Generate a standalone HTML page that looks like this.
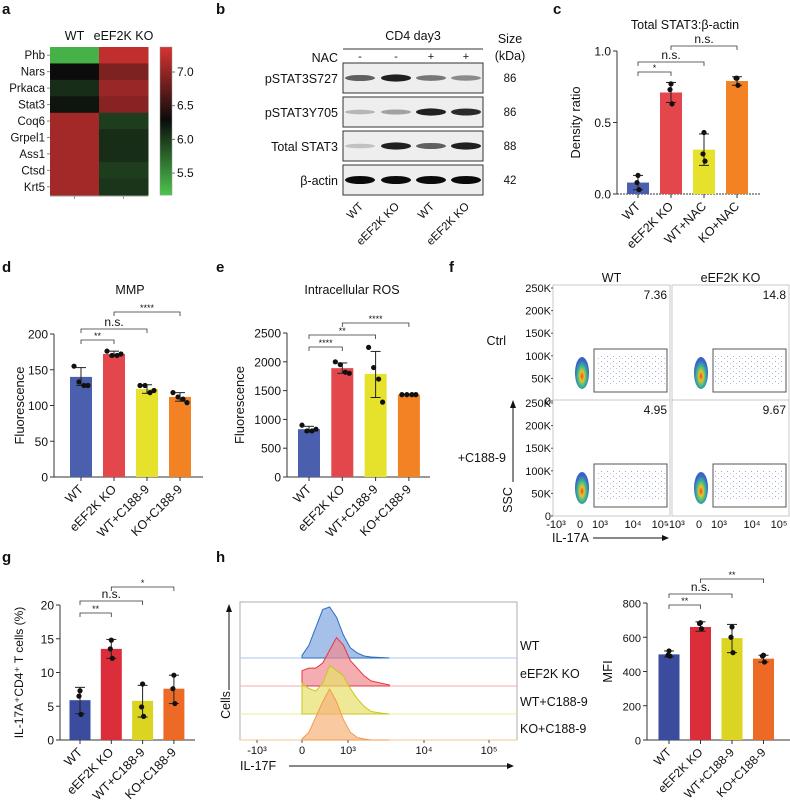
<!DOCTYPE html>
<html><head><meta charset="utf-8"><style>
body{margin:0;background:#fff}
svg{display:block;font-family:"Liberation Sans",Arial,sans-serif}
</style></head><body>
<svg id="fig" width="790" height="807" viewBox="0 0 790 807" xmlns="http://www.w3.org/2000/svg">
<defs>
<pattern id="dotsA" width="6" height="5" patternUnits="userSpaceOnUse"><rect x="1" y="1" width="1" height="1" fill="#7686d4"/><rect x="4" y="3" width="1" height="1" fill="#98a4e0"/></pattern>
<radialGradient id="blob" cx="0.5" cy="0.6" r="0.5"><stop offset="0" stop-color="#e8402a"/><stop offset="0.3" stop-color="#f0c020"/><stop offset="0.6" stop-color="#3dc08a"/><stop offset="1" stop-color="#3a62c8"/></radialGradient>
</defs>
<g id="root"></g>
</svg>
<script>
// ---- panel a heatmap data ----
const heatGenes=["Phb","Nars","Prkaca","Stat3","Coq6","Grpel1","Ass1","Ctsd","Krt5"];
const heatWT=[5.3,6.3,6.1,6.25,7.1,7.1,7.1,7.1,7.1];
const heatKO=[7.25,6.9,7.05,6.95,6.0,6.1,6.1,6.0,6.05];
const heatTicks=[5.5,6.0,6.5,7.0];
// ---- panel b blot data ----
const blotRows=["pSTAT3S727","pSTAT3Y705","Total STAT3","β-actin"];
const blotSizes=["86","86","88","42"];
const blotNAC=["-","-","+","+"];
const blotLanes=["WT","eEF2K KO","WT","eEF2K KO"];
const blotInt=[[0.6,0.9,0.5,0.4],[0.2,0.3,0.9,0.85],[0.15,0.9,0.6,0.9],[1,1,1,1]];
// ---- panel c ----
const cCats=["WT","eEF2K KO","WT+NAC","KO+NAC"];
const cMeans=[0.08,0.71,0.31,0.79];
const cPts=[[0.13,0.08,0.03],[0.77,0.73,0.63],[0.43,0.28,0.23],[0.81,0.81,0.76]];
const cErrLo=[0.03,0.64,0.20,0.76];
const cErrHi=[0.13,0.78,0.42,0.82];
const cTicks=[0,0.5,1.0];
const cTickLabels=["0.0","0.5","1.0"];
// ---- panel d ----
const dCats=["WT","eEF2K KO","WT+C188-9","KO+C188-9"];
const dMeans=[140,172,123,112];
const dPts=[[155,133,128,128],[176,170,170,172],[128,128,118,121],[118,112,109,104]];
const dErrLo=[128,169,117,106];
const dErrHi=[153,176,129,118];
const dTicks=[0,50,100,150,200];
// ---- panel e ----
const eCats=["WT","eEF2K KO","WT+C188-9","KO+C188-9"];
const eMeans=[830,1890,1790,1430];
const ePts=[[900,800,800,830],[2000,1950,1820,1800],[2250,1900,1700,1300],[1430,1430,1430,1430]];
const eErrLo=[780,1800,1380,1430];
const eErrHi=[880,1980,2180,1430];
const eTicks=[0,500,1000,1500,2000,2500];
// ---- panel f ----
const fCols=["WT","eEF2K KO"];
const fRows=["Ctrl","+C188-9"];
const fPct=[["7.36","14.8"],["4.95","9.67"]];
const fYTicks=["0","50K","100K","150K","200K","250K"];
const fXTicks=["-10³","0","10³","10⁴","10⁵"];
// ---- panel g ----
const gCats=["WT","eEF2K KO","WT+C188-9","KO+C188-9"];
const gMeans=[5.9,13.5,5.8,7.6];
const gPts=[[7.3,6.5,3.8],[14.8,13.5,12.1],[8.3,4.9,3.5],[9.6,7.6,5.4]];
const gErrLo=[3.9,12.1,3.4,5.4];
const gErrHi=[7.8,14.9,8.1,9.6];
const gTicks=[0,5,10,15,20];
// ---- panel h histograms (x in log-ish units, counts 0..1) ----
const hSamples=["WT","eEF2K KO","WT+C188-9","KO+C188-9"];
const hBins=[0,0.15,0.3,0.45,0.6,0.75,0.9,1.05,1.2,1.35,1.5,1.7,1.9];
const hCounts=[[0.05,0.25,0.6,0.95,1.0,0.8,0.45,0.2,0.1,0.04,0.02,0.01,0],
[0.3,0.35,0.35,0.45,0.7,0.95,0.8,0.5,0.35,0.2,0.1,0.06,0.02],
[0.6,0.5,0.45,0.6,0.95,0.85,0.75,0.5,0.3,0.15,0.05,0.02,0],
[0.02,0.15,0.45,0.75,1.0,0.75,0.4,0.15,0.05,0.02,0,0,0]];
const hXTicks=["-10³","0","10³","10⁴","10⁵"];
// ---- MFI ----
const mCats=["WT","eEF2K KO","WT+C188-9","KO+C188-9"];
const mMeans=[500,660,595,475];
const mPts=[[520,495,490],[685,680,650],[660,600,510],[495,490,455]];
const mErrLo=[485,635,510,455];
const mErrHi=[520,690,675,495];
const mTicks=[0,200,400,600,800];

const NS="http://www.w3.org/2000/svg";
const root=document.getElementById('root');
function mk(tag,attrs,parent,txt){const e=document.createElementNS(NS,tag);for(const k in attrs)e.setAttribute(k,attrs[k]);if(txt!==undefined)e.textContent=txt;(parent||root).appendChild(e);return e;}
function txt(x,y,s,size,anchor,parent,extra){const e=mk('text',Object.assign({x:x,y:y,'font-size':size,'text-anchor':anchor||'start',fill:'#111'},extra||{}),parent,s);return e;}

// panel letters
[["a",2,14],["b",216,14],["c",553,14],["d",2,272],["e",216,272],["f",449,272],["g",2,562],["h",216,562]].forEach(p=>{
 const t=txt(p[1],p[2],p[0],15,'start',null,{'font-weight':'bold'});
 
 
});

// ---- heatmap ----
function heatColor(v){
 const mid=6.3;let r,g,b;
 if(v<mid){const t=Math.max(0,Math.min(1,(mid-v)/(mid-5.2)));r=12+t*(76-12);g=12+t*(194-12);b=12+t*(76-12);}
 else{const t=Math.max(0,Math.min(1,(v-mid)/(7.35-mid)));r=12+t*(211-12);g=12+t*(50-12);b=12+t*(50-12);}
 return `rgb(${r|0},${g|0},${b|0})`;
}
(function(){
 const g=mk('g',{});
 const x0=50,cw=49,y0=47,rh=148/heatGenes.length;
 const t1=txt(x0+cw/2,40,"WT",12.5,'middle',g);
 const t2=txt(x0+cw*1.5,40,"eEF2K KO",12.5,'middle',g);
 heatGenes.forEach((gn,i)=>{
  [heatWT,heatKO].forEach((arr,j)=>{
   const r=mk('rect',{x:x0+j*cw,y:y0+i*rh,width:cw+0.5,height:rh+0.5,fill:heatColor(arr[i])},g);
   
   
  });
  const l=txt(x0-5,y0+i*rh+rh/2+4,gn,11.5,'end',g);
  mk('line',{x1:x0-3,x2:x0,y1:y0+i*rh+rh/2,y2:y0+i*rh+rh/2,stroke:'#888'},g);
 });
 mk('line',{x1:x0,x2:x0+2*cw,y1:196,y2:196,stroke:'#999'},g);
 mk('line',{x1:x0+cw/2,x2:x0+cw/2,y1:196,y2:199,stroke:'#999'},g);
 mk('line',{x1:x0+1.5*cw,x2:x0+1.5*cw,y1:196,y2:199,stroke:'#999'},g);
 const cb=mk('g',{},g);
 const cy=v=>72+(7.0-v)/0.5*33.7;
 for(let y=47;y<195;y++){const v=7.0-(y-72)/33.7*0.5;mk('rect',{x:160,y:y,width:12,height:1.3,fill:heatColor(v)},cb);}
 mk('rect',{x:160,y:47,width:12,height:148,fill:'none',stroke:'#999','stroke-width':0.5},cb);
 heatTicks.forEach(v=>{mk('line',{x1:172,x2:175,y1:cy(v),y2:cy(v),stroke:'#777'},cb);const t=txt(177,cy(v)+4,v.toFixed(1),12,'start',cb);});
})();

// ---- blots ----
(function(){
 const g=mk('g',{});
 const lx=[360,396,431,466],bx0=343,bx1=483;
 const boxY=[63,97,131,165],bh=30;
 txt(413,40,"CD4 day3",12.5,'middle',g);
 mk('line',{x1:bx0,x2:bx1,y1:49,y2:49,stroke:'#333'},g);
 txt(510,43,"Size",12.5,'middle',g);txt(510,60,"(kDa)",12.5,'middle',g);
 txt(338,62,"NAC",12.5,'end',g);
 blotNAC.forEach((s,i)=>txt(lx[i],60,s,11,'middle',g));
 blotRows.forEach((r,ri)=>{
  const t=txt(338,boxY[ri]+20,r,12.5,'end',g);
  const bg=mk('rect',{x:bx0,y:boxY[ri],width:bx1-bx0,height:bh,fill:'#eeeeee',stroke:'#333','stroke-width':1},g);
  
  blotInt[ri].forEach((v,li)=>{
   const h=ri===3?7:3+v*3.5;
   const c=Math.round(225-v*215);
   const band=mk('ellipse',{cx:lx[li],cy:boxY[ri]+bh/2,rx:15,ry:h/2+0.5,fill:`rgb(${c},${c},${c})`},g);
   
  });
  txt(510,boxY[ri]+19,blotSizes[ri],11.5,'middle',g);
 });
 blotLanes.forEach((s,i)=>{const t=txt(lx[i]+4,207,s,11.5,'end',g,{transform:`rotate(-45 ${lx[i]+4} 207)`});});
})();

// ---- generic bar chart ----
function barChart(o){
 const g=mk('g',{});
 const Y=v=>o.y0-v/o.vmax*(o.y0-o.yTop);
 const bx=i=>o.bx0+i*o.step;
 mk('line',{x1:o.ax,x2:o.ax,y1:o.yTop,y2:o.y0,stroke:'#333','stroke-width':1},g);
 mk('line',{x1:o.ax,x2:o.axEnd,y1:o.y0,y2:o.y0,stroke:'#333','stroke-width':1,'stroke-dasharray':o.dash||'none'},g);
 o.ticks.forEach((v,i)=>{mk('line',{x1:o.ax-4,x2:o.ax,y1:Y(v),y2:Y(v),stroke:'#333'},g);
  const t=txt(o.ax-6,Y(v)+4.5,o.tickLabels?o.tickLabels[i]:String(v),o.fs||12,'end',g);});
 const yl=txt(o.ylx,(o.y0+o.yTop)/2,o.ylabel,o.ylfs||13,'middle',g,{transform:`rotate(-90 ${o.ylx} ${(o.y0+o.yTop)/2})`});
 
 if(o.title){const t=txt(o.titleX,o.titleY,o.title,12.5,'middle',g);}
 o.cats.forEach((c,i)=>{
  const x=bx(i);
  const r=mk('rect',{x:x-o.bw/2,y:Y(o.means[i]),width:o.bw,height:o.y0-Y(o.means[i]),fill:o.colors[i]},g);
  
  
  mk('line',{x1:x,x2:x,y1:Y(o.errLo[i]),y2:Y(o.errHi[i]),stroke:'#222'},g);
  mk('line',{x1:x-5,x2:x+5,y1:Y(o.errLo[i]),y2:Y(o.errLo[i]),stroke:'#222'},g);
  mk('line',{x1:x-5,x2:x+5,y1:Y(o.errHi[i]),y2:Y(o.errHi[i]),stroke:'#222'},g);
  const n=o.pts[i].length;
  o.pts[i].forEach((p,k)=>{const off=n===3?[0,-1,1][k]:[-7,-2,3,7][k];
   const d=mk('circle',{cx:x+off,cy:Y(p),r:2.6,fill:'#111'},g);});
  mk('line',{x1:x,x2:x,y1:o.y0,y2:o.y0+4,stroke:'#333'},g);
  const t=txt(x+3,o.y0+13,c,o.catfs||12.5,'end',g,{transform:`rotate(-45 ${x+3} ${o.y0+13})`});
  
 });
 o.brackets.forEach(b=>{
  const x1=bx(b[0]),x2=bx(b[1]),y=b[3];
  mk('path',{d:`M${x1} ${y+4}V${y}H${x2}V${y+4}`,fill:'none',stroke:'#333','stroke-width':0.8},g);
  const t=txt((x1+x2)/2,b[2]==='n.s.'?y-3:y-1,b[2],b[2]==='n.s.'?12:9,'middle',g);
  
 });
}
const colsA=["#4a5fad","#e3474c","#e6e12a","#f28224"];
const colsB=["#3b4b9e","#dc2d3a","#dcd423","#ec6a26"];
barChart({name:'chart-c-stat3',ax:617,axEnd:760,y0:194,yTop:51,vmax:1.0,bx0:638,step:33,bw:22,cats:cCats,means:cMeans,pts:cPts,errLo:cErrLo,errHi:cErrHi,ticks:cTicks,tickLabels:cTickLabels,colors:colsA,ylabel:'Density ratio',ylx:580,title:'Total STAT3:β-actin',titleX:685,titleY:29,dash:'2 1',
 brackets:[[0,1,'*',72],[0,2,'n.s.',62],[1,3,'n.s.',46]]});
barChart({name:'chart-d-mmp',ax:54,axEnd:203,y0:477,yTop:334,vmax:200,bx0:81,step:33,bw:22,cats:dCats,means:dMeans,pts:dPts,errLo:dErrLo,errHi:dErrHi,ticks:dTicks,colors:colsA,ylabel:'Fluorescence',ylx:24,title:'MMP',titleX:130,titleY:294,
 brackets:[[0,1,'**',340],[0,2,'n.s.',329],[1,3,'****',312]]});
barChart({name:'chart-e-ros',ax:287,axEnd:430,y0:477,yTop:333,vmax:2500,bx0:309,step:33.3,bw:22,cats:eCats,means:eMeans,pts:ePts,errLo:eErrLo,errHi:eErrHi,ticks:eTicks,colors:colsA,ylabel:'Fluorescence',ylx:244,title:'Intracellular ROS',titleX:352,titleY:294,
 brackets:[[0,1,'****',347],[0,2,'**',335],[1,3,'****',323]]});
barChart({name:'chart-g-il17a',ax:60,axEnd:195,y0:740,yTop:605,vmax:20,bx0:80,step:31.3,bw:21,cats:gCats,means:gMeans,pts:gPts,errLo:gErrLo,errHi:gErrHi,ticks:gTicks,colors:colsB,ylabel:'IL-17A⁺CD4⁺ T cells (%)',ylx:23,ylfs:12,
 brackets:[[0,1,'**',613],[0,2,'n.s.',601],[1,3,'*',587]]});
barChart({name:'chart-h-mfi',ax:647,axEnd:790,y0:740,yTop:603,vmax:800,bx0:669,step:31.5,bw:21,cats:mCats,means:mMeans,pts:mPts,errLo:mErrLo,errHi:mErrHi,ticks:mTicks,colors:colsB,ylabel:'MFI',ylx:612,fs:11,catfs:12,
 brackets:[[0,1,'**',605],[0,2,'n.s.',594],[1,3,'**',579]]});

// ---- flow panel f ----
(function(){
 const g=mk('g',{});
 const px=[553,672],pw=117,py=[285,400],ph=116;
 fCols.forEach((c,ci)=>txt(px[ci]+pw/2,282,c,12.5,'middle',g));
 fRows.forEach((r,ri)=>txt(506,ri?462:345,r,12.5,'end',g));
 for(let ri=0;ri<2;ri++)for(let ci=0;ci<2;ci++){
  const x=px[ci],y=py[ri];
  const p=mk('rect',{x:x,y:y,width:pw,height:ph,fill:'#fff',stroke:'#bbb','stroke-width':0.8},g);
  
  const gx=x+41,gy=y+64,gw=73,gh=43;
  mk('rect',{x:gx+2,y:gy+6,width:gw-4,height:gh-12,fill:'url(#dotsA)',opacity:0.7},g);
  const gate=mk('rect',{x:gx,y:gy,width:gw,height:gh,fill:'none',stroke:'#555','stroke-width':1},g);
  
  const bl=mk('ellipse',{cx:x+29,cy:y+88,rx:7,ry:16,fill:'url(#blob)'},g);
  
  const t=txt(x+pw-3,y+14,fPct[ri][ci],12,'end',g);
 }
 for(let ri=0;ri<2;ri++){
  fYTicks.forEach((s,k)=>{const y=py[ri]+ph-k*22.6;txt(551,y+4,s,11,'end',g);mk('line',{x1:551,x2:553,y1:y,y2:y,stroke:'#555'},g);});
 }
 const xo=[3,27,47,80,107];
 for(let ci=0;ci<2;ci++)fXTicks.forEach((s,k)=>txt(px[ci]+xo[k],528,s,11,'middle',g));
 const s=txt(512,500,"SSC",12.5,'middle',g,{transform:'rotate(-90 512 500)'});
 mk('line',{x1:513,x2:513,y1:482,y2:407,stroke:'#111'},g);mk('path',{d:'M510 408L513 400L516 408Z',fill:'#111'},g);
 const il=txt(552,542,"IL-17A",12.5,'start',g);
 mk('line',{x1:593,x2:663,y1:538,y2:538,stroke:'#111'},g);mk('path',{d:'M662 535L669 538L662 541Z',fill:'#111'},g);
})();

// ---- histogram h ----
(function(){
 const g=mk('g',{});
 const bx=240,bw=277,top=602,bot=740;
 mk('rect',{x:bx,y:top,width:bw,height:bot-top,fill:'#fff',stroke:'#999','stroke-width':0.8},g);
 const base=[658,686,714,740],scale=[51,51,51,51];
 const fill=["#7fa7e0","#f08a90","#e5e06a","#f7b27a"],line=["#2c6cc4","#e83440","#c9c61c","#f59a4a"],bl=["#aac8ee","#f5a8ae","#eeee9a","#f7c59a"];
 const X=v=>302+v*46;
 hSamples.forEach((s,i)=>{
  mk('line',{x1:bx,x2:bx+bw,y1:base[i],y2:base[i],stroke:bl[i]},g);
  let d=`M${X(hBins[0])} ${base[i]}`;
  hBins.forEach((b,k)=>{d+=`L${X(b)} ${base[i]-hCounts[i][k]*scale[i]}`;});
  d+=`L${X(hBins[hBins.length-1])} ${base[i]}Z`;
  const p=mk('path',{d:d,fill:fill[i],'fill-opacity':0.7,stroke:line[i],'stroke-width':1},g);
  
  
  const t=txt(520,[650,678,706,733][i],s,12.5,'start',g);
 });
 const tx=[257,302,348,424,489];
 hXTicks.forEach((s,k)=>{txt(tx[k],754,s,11,'middle',g);mk('line',{x1:tx[k],x2:tx[k],y1:bot,y2:bot+3,stroke:'#555'},g);});
 const c=txt(230,705,"Cells",12.5,'middle',g,{transform:'rotate(-90 230 705)'});
 mk('line',{x1:229,x2:229,y1:690,y2:611,stroke:'#111'},g);mk('path',{d:'M226 612L229 604L232 612Z',fill:'#111'},g);
 const f=txt(240,770,"IL-17F",12.5,'start',g);
 mk('line',{x1:289,x2:508,y1:766,y2:766,stroke:'#111'},g);mk('path',{d:'M507 763L514 766L507 769Z',fill:'#111'},g);
})();
</script>
</body></html>
